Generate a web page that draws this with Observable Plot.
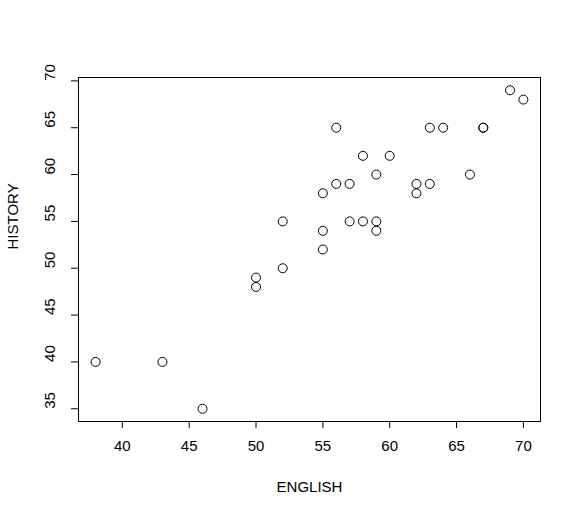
<!DOCTYPE html>
<html>
<head>
<meta charset="utf-8">
<script src="https://cdn.jsdelivr.net/npm/d3@7"></script>
<script src="https://cdn.jsdelivr.net/npm/@observablehq/plot@0.6"></script>
<style>
  body { margin: 0; background: #fff; }
  #chart svg { font-family: "Liberation Sans", Arial, sans-serif; }
</style>
</head>
<body>
<div id="chart"></div>
<script>
const english = [38, 43, 46, 50, 50, 52, 52, 55, 55, 55, 56, 56, 57, 57, 58, 58, 59, 59, 59, 60, 62, 62, 63, 63, 64, 66, 67, 67, 69, 70];
const history = [40, 40, 35, 49, 48, 55, 50, 58, 54, 52, 65, 59, 59, 55, 62, 55, 60, 55, 54, 62, 59, 58, 65, 59, 65, 60, 65, 65, 69, 68];
const xTicks = [40, 45, 50, 55, 60, 65, 70];
const yTicks = [35, 40, 45, 50, 55, 60, 65, 70];

const data = english.map((e, i) => ({english: e, history: history[i]}));

const chart = Plot.plot({
  width: 580,
  height: 519,
  marginLeft: 78,
  marginRight: 40,
  marginTop: 77,
  marginBottom: 98,
  style: {fontSize: "15px", fontFamily: "Liberation Sans, Arial, sans-serif", color: "#000"},
  x: {domain: [36.72, 71.28]},
  y: {domain: [33.64, 70.36]},
  marks: [
    Plot.frame({stroke: "#000"}),
    Plot.axisX({ticks: xTicks, tickSize: 7, tickPadding: 12, fontSize: 15, label: null}),
    Plot.axisY({ticks: yTicks, tickSize: 7, tickFormat: () => "", label: null}),
    Plot.text(yTicks, {y: d => d, text: d => String(d), frameAnchor: "left", dx: -28, rotate: -90, fontSize: 15}),
    Plot.text(["ENGLISH"], {frameAnchor: "bottom", dy: 70, fontSize: 15}),
    Plot.text(["HISTORY"], {frameAnchor: "left", dx: -65, rotate: -90, fontSize: 15}),
    Plot.dot(data, {x: "english", y: "history", r: 4.5, stroke: "#000", strokeWidth: 1, fill: "none"})
  ]
});

d3.select('#chart').append(() => chart);
</script>
</body>
</html>
